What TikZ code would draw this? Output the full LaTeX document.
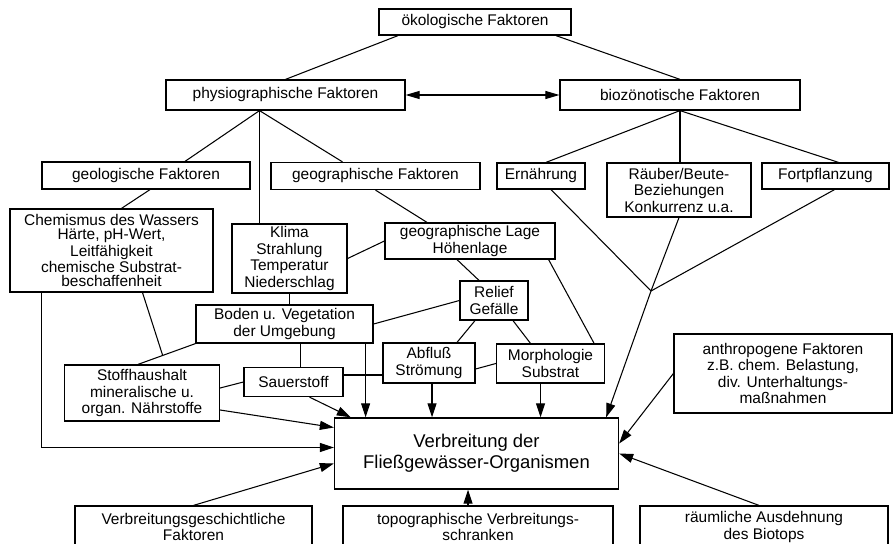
\documentclass[tikz,border=0pt]{standalone}
\usepackage{fontspec}
\setmainfont{Liberation Sans}
\usepackage{tikz}
\usetikzlibrary{arrows.meta,positioning,calc}
\tikzset{
  factbox/.style={rectangle, draw=black, line width=0.7pt, fill=white, align=center, inner sep=0pt, font=\fontsize{8.8}{9.4}\selectfont},
  mainbox/.style={rectangle, draw=black, line width=0.8pt, fill=white, align=center, inner sep=0pt, font=\fontsize{10.5}{11.8}\selectfont},
  linkline/.style={line width=0.6pt},
  linkarrow/.style={-{Triangle[length=2.8mm, width=1.8mm]}, line width=0.6pt},
  twoway/.style={{Triangle[length=2.8mm, width=1.6mm]}-{Triangle[length=2.8mm, width=1.6mm]}, line width=0.6pt}
}

\begin{document}
\begin{tikzpicture}[x=0.02cm, y=-0.02cm]
\useasboundingbox (0,0) rectangle (896,544);
\node[factbox, minimum width=3.84cm, minimum height=0.52cm] (oeko) at (475,22) {ökologische Faktoren};
\node[factbox, minimum width=4.78cm, minimum height=0.60cm] (phys) at (285.5,95) {physiographische Faktoren};
\node[factbox, minimum width=4.80cm, minimum height=0.60cm] (bio) at (680,95) {biozönotische Faktoren};
\node[factbox, minimum width=4.16cm, minimum height=0.54cm] (geol) at (146,175.5) {geologische Faktoren};
\node[factbox, minimum width=4.18cm, minimum height=0.54cm] (geof) at (375.5,176) {geographische Faktoren};
\node[factbox, minimum width=1.76cm, minimum height=0.52cm] (ern) at (541,176) {Ernährung};
\node[factbox, minimum width=2.88cm, minimum height=1.08cm] (raeuber) at (679,190) {Räuber/Beute-\\Beziehungen\\Konkurrenz u.a.};
\node[factbox, minimum width=2.54cm, minimum height=0.52cm] (fort) at (825.5,176) {Fortpflanzung};
\node[factbox, minimum width=4.06cm, minimum height=1.66cm, font=\fontsize{8.8}{8}\selectfont] (chem) at (111.5,250.5) {Chemismus des Wassers\\Härte, pH-Wert,\\Leitfähigkeit\\chemische Substrat-\\beschaffenheit};
\node[factbox, minimum width=2.30cm, minimum height=1.38cm] (klima) at (289.5,258.5) {Klima\\Strahlung\\Temperatur\\Niederschlag};
\node[factbox, minimum width=3.40cm, minimum height=0.72cm] (lage) at (470,241) {geographische Lage\\Höhenlage};
\node[factbox, minimum width=1.36cm, minimum height=0.78cm] (relief) at (494,300.5) {Relief\\Gefälle};
\node[factbox, minimum width=3.54cm, minimum height=0.76cm] (boden) at (284.5,324) {Boden u. Vegetation\\der Umgebung};
\node[factbox, minimum width=1.84cm, minimum height=0.80cm] (abfluss) at (429,363) {Abfluß\\Strömung};
\node[factbox, minimum width=2.16cm, minimum height=0.78cm] (morph) at (550.5,363.5) {Morphologie\\Substrat};
\node[factbox, minimum width=1.98cm, minimum height=0.58cm] (sauer) at (293.5,382) {Sauerstoff};
\node[factbox, minimum width=3.10cm, minimum height=1.12cm] (stoff) at (142,393) {Stoffhaushalt\\mineralische u.\\organ. Nährstoffe};
\node[mainbox, minimum width=5.68cm, minimum height=1.42cm] (verb) at (476.5,453.5) {Verbreitung der\\Fließgewässer-Organismen};
\node[factbox, minimum width=4.36cm, minimum height=1.58cm] (anthro) at (783,373.5) {anthropogene Faktoren\\z.B. chem. Belastung,\\div. Unterhaltungs-\\maßnahmen};
\node[factbox, minimum width=4.74cm, minimum height=0.84cm] (geschicht) at (193.5,527) {Verbreitungsgeschichtliche\\Faktoren};
\node[factbox, minimum width=5.40cm, minimum height=0.84cm] (topo) at (478,527) {topographische Verbreitungs-\\schranken};
\node[factbox, minimum width=4.96cm, minimum height=0.84cm] (raum) at (764,527) {räumliche Ausdehnung\\des Biotops};
\draw[linkline] ($(oeko.south)+(-77,0)$) -- (phys.north);
\draw[linkline] ($(oeko.south)+(81,0)$) -- (bio.north);
\draw[twoway] (phys.east) -- (bio.west);
\coordinate (physfoot) at ($(phys.south)+(-26,0)$);
\draw[linkline] (physfoot) -- ($(geol.north)+(39,0)$);
\draw[linkline] (physfoot) -- (physfoot |- klima.north);
\draw[linkline] (physfoot) -- ($(geof.north)+(-33,0)$);
\draw[linkline] (bio.south) -- ($(ern.north)+(5,0)$);
\draw[linkline] (bio.south) -- (bio.south |- raeuber.north);
\draw[linkline] (bio.south) -- ($(fort.north)+(13,0)$);
\draw[linkline] ($(geol.south)+(4,0)$) -- ($(chem.north)+(10,0)$);
\draw[linkline] (geof.south) -- ($(lage.north)+(-43,0)$);
\draw[linkline] (klima.east) -- (lage.west);
\draw[linkline] (klima.south) -- (klima.south |- boden.north);
\draw[linkline] ($(lage.south)+(-13,0)$) -- ($(relief.north)+(-15,0)$);
\draw[linkline] ($(lage.south east)+(-7,0)$) -- ($(morph.north east)+(-11,0)$);
\draw[linkline] (relief.west) -- (boden.east);
\draw[linkline] ($(relief.south)+(-19,0)$) -- ($(abfluss.north)+(28,0)$);
\draw[linkline] ($(relief.south)+(19,0)$) -- ($(morph.north)+(-20,0)$);
\draw[linkline] ($(abfluss.east)+(0,6)$) -- (morph.west);
\draw[linkline] ($(sauer.east)+(0,-7)$) -- ($(abfluss.west)+(0,12)$);
\coordinate (bodenfoot) at ($(boden.south)+(16,0)$);
\draw[linkline] (bodenfoot) -- (bodenfoot |- sauer.north);
\coordinate (bodenleft) at (boden.south west);
\coordinate (stofftop) at ($(stoff.north)+(-4,0)$);
\draw[linkline] (bodenleft) -- (stofftop);
\draw[linkline] ($(chem.south)+(31,0)$) -- ($(bodenleft)!0.57!(stofftop)$);
\draw[linkline] ($(stoff.east)+(0,-5)$) -- (sauer.west);
\coordinate (biojoin) at (651,291);
\draw[linkline] ($(ern.south)+(10,0)$) -- (biojoin);
\draw[linkline] (raeuber.south) -- (biojoin);
\draw[linkline] ($(fort.south)+(9,0)$) -- (biojoin);
\draw[linkarrow] (biojoin) -- ($(verb.north east)+(-13,0)$);
\coordinate (bodenarr) at ($(boden.south east)+(-8,0)$);
\draw[linkarrow] (bodenarr) -- (bodenarr |- verb.north);
\coordinate (abflussarr) at ($(abfluss.south)+(3,0)$);
\draw[linkarrow] (abflussarr) -- (abflussarr |- verb.north);
\coordinate (morpharr) at ($(morph.south)+(-10,0)$);
\draw[linkarrow] (morpharr) -- (morpharr |- verb.north);
\draw[linkarrow] (anthro.west) -- ($(verb.east)+(0,-10)$);
\draw[linkarrow] ($(raum.north)+(-5,0)$) -- (verb.east);
\coordinate (topoarr) at ($(topo.north)+(-10,0)$);
\draw[linkarrow] (topoarr) -- (topoarr |- verb.south);
\draw[linkarrow] (geschicht.north) -- ($(verb.west)+(0,10)$);
\draw[linkarrow] ($(chem.south west)+(32,0)$) |- ($(verb.west)+(0,-6)$);
\draw[linkarrow] ($(stoff.east)+(0,17)$) -- ($(verb.west)+(0,-26)$);
\draw[linkarrow] ($(sauer.south)+(16,0)$) -- ($(verb.north west)+(17,0)$);
\end{tikzpicture}
\end{document}
